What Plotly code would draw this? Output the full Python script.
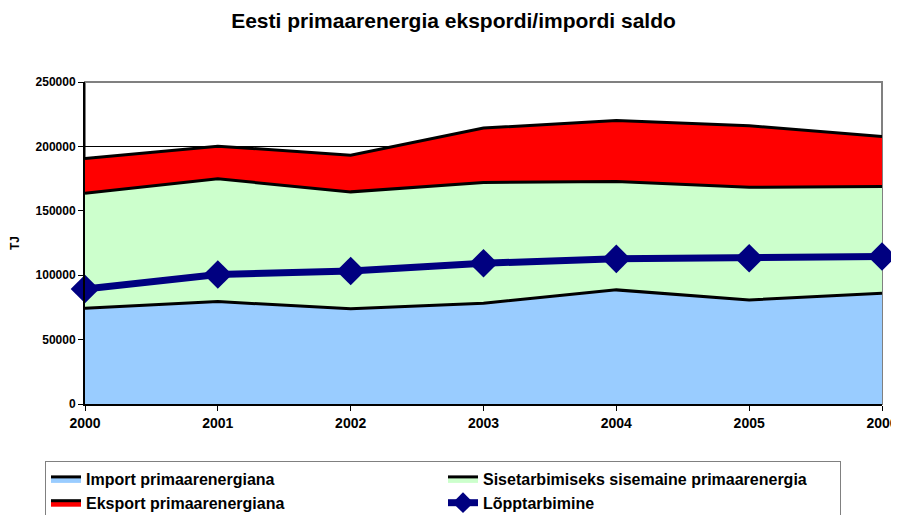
import plotly.graph_objects as go

years = [2000, 2001, 2002, 2003, 2004, 2005, 2006]
import_pe = [74400, 79500, 74000, 78200, 88600, 80800, 86000]
domestic_pe = [89300, 95300, 90700, 93800, 84200, 87500, 82900]
export_pe = [26900, 25400, 28500, 42200, 47400, 47700, 38800]
final_use = [89300, 100500, 103300, 109300, 112700, 113200, 114500]
y_ticks = [0, 50000, 100000, 150000, 200000, 250000]

names = ["Import primaarenergiana", "Sisetarbimiseks sisemaine primaarenergia",
         "Eksport primaarenergiana", "Lõpptarbimine"]
fills = ["#99CCFF", "#CCFFCC", "#FF0000"]

fig = go.Figure()
for name, vals, col in zip(names[:3], [import_pe, domestic_pe, export_pe], fills):
    fig.add_trace(go.Scatter(
        x=years, y=vals, name=name, mode="lines", stackgroup="one",
        fillcolor=col, line=dict(color="black", width=3)))

fig.add_trace(go.Scatter(
    x=years, y=final_use, name=names[3], mode="lines+markers",
    line=dict(color="#000080", width=7),
    marker=dict(symbol="diamond", size=22, color="#000080"),
    cliponaxis=False))

fig.add_shape(type="rect", xref="paper", yref="paper", x0=0, x1=1, y0=0, y1=1,
              line=dict(color="#808080", width=2), layer="below")

# page body has an 8px margin, so the figure is sized to fit the 899x515 window
fig.update_layout(
    width=891, height=507,
    margin=dict(l=77, r=17, t=74, b=111),
    paper_bgcolor="white", plot_bgcolor="white",
    font=dict(family="Liberation Sans, Arial", color="black"),
    title=dict(text="Eesti primaarenergia ekspordi/impordi saldo",
               x=0.5, xanchor="center", y=1 - 13 / 507, yanchor="middle",
               font=dict(size=21, weight="bold")),
    xaxis=dict(range=[2000, 2006], tickmode="array", tickvals=years, tickformat="d",
               showgrid=False, zeroline=False, showline=True, linecolor="black",
               linewidth=2, ticks="outside", ticklen=5, tickcolor="black",
               tickfont=dict(size=14, weight="bold"), automargin=False),
    yaxis=dict(range=[0, 250000], tickmode="array", tickvals=y_ticks, tickformat="d",
               showgrid=True, gridcolor="black", gridwidth=1, zeroline=False,
               showline=True, linecolor="black", linewidth=2,
               ticks="outside", ticklen=5, tickcolor="black",
               tickfont=dict(size=12, weight="bold"), automargin=False,
               title=dict(text="TJ", font=dict(size=12, weight="bold"), standoff=18)),
    legend=dict(orientation="h", xref="container", x=37 / 891, xanchor="left",
                yref="container", y=1 - 453 / 507, yanchor="top",
                entrywidth=352, entrywidthmode="pixels",
                bordercolor="#808080", borderwidth=1, bgcolor="white",
                font=dict(size=16, weight="bold"), traceorder="normal"),
    showlegend=True,
)

fig.write_html("out.html")
